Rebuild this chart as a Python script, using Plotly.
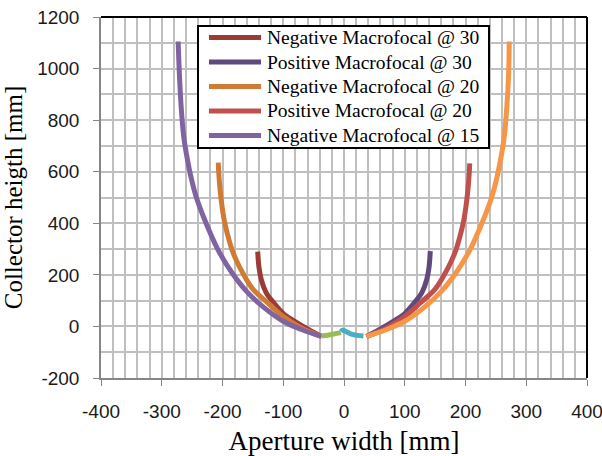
import plotly.graph_objects as go

# ---- data ----
neg30_x = [-142, -140, -136, -128, -117, -100, -81, -60, -37]
neg30_y = [290, 230, 180, 130, 95, 50, 20, -10, -39]

pos30_x = [37, 60, 81, 100, 117, 128, 136, 140, 142]
pos30_y = [-39, -10, 20, 50, 95, 130, 180, 230, 292]

neg20_x = [-207, -206, -204, -201, -197, -191, -184, -175, -165, -150, -125, -100, -70, -37]
neg20_y = [635, 590, 530, 470, 410, 350, 295, 245, 200, 145, 90, 38, -6, -39]

pos20_x = [37, 70, 100, 125, 150, 165, 175, 184, 191, 197, 201, 204, 206, 207]
pos20_y = [-39, -6, 38, 90, 145, 200, 245, 295, 350, 410, 470, 530, 590, 632]

neg15_x = [-273, -271, -268, -264, -258, -251, -243, -227, -208, -185, -160, -130, -100, -70, -37]
neg15_y = [1105, 980, 850, 740, 650, 570, 500, 400, 300, 210, 135, 70, 20, -12, -39]

pos15_x = [37, 70, 100, 130, 160, 185, 208, 227, 243, 251, 258, 264, 268, 271, 272]
pos15_y = [-39, -12, 20, 70, 135, 210, 300, 400, 500, 570, 650, 740, 850, 980, 1105]

recv_l_x = [-37, -20, -5]
recv_l_y = [-37, -31, -24]

recv_r_x = [-5, -2, 5, 15, 32]
recv_r_y = [-20, -15, -22, -32, -37]

series_names = ["Negative Macrofocal @ 30", "Positive Macrofocal @ 30",
                "Negative Macrofocal @ 20", "Positive Macrofocal @ 20",
                "Negative Macrofocal @ 15", "Positive Macrofocal @ 15",
                "Receiver left", "Receiver right"]
series_x = [neg30_x, pos30_x, neg20_x, pos20_x, neg15_x, pos15_x, recv_l_x, recv_r_x]
series_y = [neg30_y, pos30_y, neg20_y, pos20_y, neg15_y, pos15_y, recv_l_y, recv_r_y]
series_colors = ["#9B3B38", "#604A7B", "#D07B33", "#C0504D", "#8064A2",
                 "#F79646", "#9BBB59", "#4BACC6"]
legend_count = 5  # the reference legend lists only the first five series

x_ticks = [-400, -300, -200, -100, 0, 100, 200, 300, 400]
y_ticks = [-200, 0, 200, 400, 600, 800, 1000, 1200]

fig = go.Figure()
for name, xs, ys, col in zip(series_names, series_x, series_y, series_colors):
    fig.add_trace(go.Scatter(
        x=xs, y=ys, mode="lines", name=name, showlegend=False,
        line=dict(color=col, width=5, shape="spline", smoothing=1.0),
    ))

# ---- layout geometry (pixels of the 602x456 page) ----
W, H = 602, 456
ML, MR, MT, MB = 101, 15, 17, 78
PW, PH = W - ML - MR, H - MT - MB


def px(xp):
    return (xp - ML) / PW


def py(yp):
    return (H - MB - yp) / PH


legend_font = dict(family="Liberation Serif, Times New Roman, serif", size=19.5, color="#000000")
shapes = [
    dict(type="rect", xref="paper", yref="paper", x0=px(198), x1=px(489), y0=py(148), y1=py(26),
         line=dict(color="#000000", width=2), fillcolor="white", layer="above"),
]
annotations = []
row_y = [37.5, 62, 86.5, 111, 135.5]
for i in range(legend_count):
    shapes.append(dict(type="line", xref="paper", yref="paper",
                       x0=px(209), x1=px(261), y0=py(row_y[i]), y1=py(row_y[i]),
                       line=dict(color=series_colors[i], width=5), layer="above"))
    annotations.append(dict(text=series_names[i], xref="paper", yref="paper",
                            x=px(265), y=py(row_y[i]), xanchor="left", yanchor="middle",
                            showarrow=False, font=legend_font))

shapes += [
    dict(type="line", xref="paper", yref="paper", x0=0, x1=1, y0=1, y1=1,
         line=dict(color="#000000", width=2), layer="above"),
    dict(type="line", xref="paper", yref="paper", x0=1, x1=1, y0=0, y1=1,
         line=dict(color="#000000", width=2), layer="above"),
]

grid_col = "#BFBFBF"
axis_font = dict(family="Liberation Sans, Arial, sans-serif", size=19, color="#1a1a1a")
title_font_x = dict(family="Liberation Serif, Times New Roman, serif", size=27, color="#000000")
title_font_y = dict(family="Liberation Serif, Times New Roman, serif", size=25, color="#000000")

fig.update_layout(
    width=W, height=H,
    margin=dict(l=ML, r=MR, t=MT, b=MB),
    paper_bgcolor="white", plot_bgcolor="white",
    showlegend=False,
    xaxis=dict(
        range=[-400, 400], tickvals=x_ticks, ticktext=[str(v) for v in x_ticks],
        showgrid=True, gridcolor=grid_col, gridwidth=1.5,
        minor=dict(dtick=20, tick0=0, showgrid=True, gridcolor=grid_col, gridwidth=1.5),
        showline=True, linecolor="#868686", linewidth=1.5,
        ticks="outside", ticklen=6, tickcolor="#868686",
        tickfont=axis_font, zeroline=False, automargin=False,
        ticklabelstandoff=9, ticklabeloverflow="allow",
        title=dict(text="Aperture width [mm]", font=title_font_x, standoff=14),
    ),
    yaxis=dict(
        range=[-200, 1200], tickvals=y_ticks, ticktext=[str(v) for v in y_ticks],
        showgrid=True, gridcolor=grid_col, gridwidth=1.5,
        minor=dict(dtick=100, tick0=0, showgrid=True, gridcolor=grid_col, gridwidth=1.5),
        showline=True, linecolor="#868686", linewidth=1.5,
        ticks="outside", ticklen=6, tickcolor="#868686",
        tickfont=axis_font, zeroline=False, automargin=False,
        ticklabelstandoff=10, ticklabeloverflow="allow",
        title=dict(text="Collector heigth [mm]", font=title_font_y, standoff=11),
    ),
    shapes=shapes,
    annotations=annotations,
)

fig.write_html(
    "out.html",
    config={"displayModeBar": False},
    post_script="document.body.style.margin='0';document.body.style.padding='0';document.body.style.overflow='hidden';",
)
